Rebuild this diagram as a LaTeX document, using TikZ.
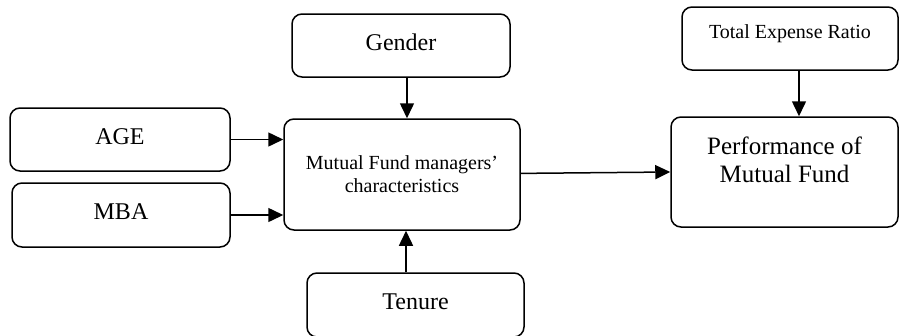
\documentclass[tikz,border=0pt]{standalone}
\usepackage{fontspec}
\setmainfont{Liberation Serif}
\usetikzlibrary{arrows.meta}

\begin{document}
\begin{tikzpicture}[x=1pt,y=-1pt,
    box/.style={draw,line width=1.5pt,rounded corners=10pt,inner sep=0pt,align=center},
    big/.style={font=\fontsize{24}{28}\selectfont,text height=16pt,text depth=7pt},
    small/.style={font=\fontsize{20}{23}\selectfont},
    link/.style={line width=1.5pt,-{Triangle[length=15pt,width=14pt]}}]
    \useasboundingbox (0,0) rectangle (899,335);
    % factors on the left
    \node[box,big,minimum width=220pt,minimum height=63pt] (age) at (120,139.5) {AGE};
    \node[box,big,minimum width=218pt,minimum height=64pt] (mba) at (121,215) {MBA};
    \node[box,big,minimum width=218pt,minimum height=63pt] (gender) at (401,45.5) {Gender};
    \node[box,big,minimum width=217pt,minimum height=64pt] (tenure) at (415.5,305) {Tenure};
    % middle box
    \node[box,small,minimum width=236pt,minimum height=111pt] (mfm) at (402,174.5)
        {Mutual Fund managers'\\characteristics};
    % right side
    \node[box,small,minimum width=216pt,minimum height=63pt,text height=13pt,text depth=14pt]
        (ter) at (790,38.5) {Total Expense Ratio};
    \node[box,font=\fontsize{25}{28}\selectfont,minimum width=227pt,minimum height=110pt,
        text height=45pt,text depth=25pt] (perf) at (784.5,172) {Performance of\\Mutual Fund};
    % arrows
    \coordinate (gin) at ([xshift=6pt]gender.south);
    \coordinate (tin) at ([xshift=4pt]mfm.south);
    \coordinate (rin) at ([xshift=9pt]ter.south);
    \draw[link] (age.east) -- (age.east -| mfm.west);
    \draw[link] (mba.east) -- (mba.east -| mfm.west);
    \draw[link] (gin) -- (gin |- mfm.north);
    \draw[link] (tin |- tenure.north) -- (tin);
    \draw[link] (mfm) -- (perf.west);
    \draw[link] (rin) -- (rin |- perf.north);
\end{tikzpicture}
\end{document}
